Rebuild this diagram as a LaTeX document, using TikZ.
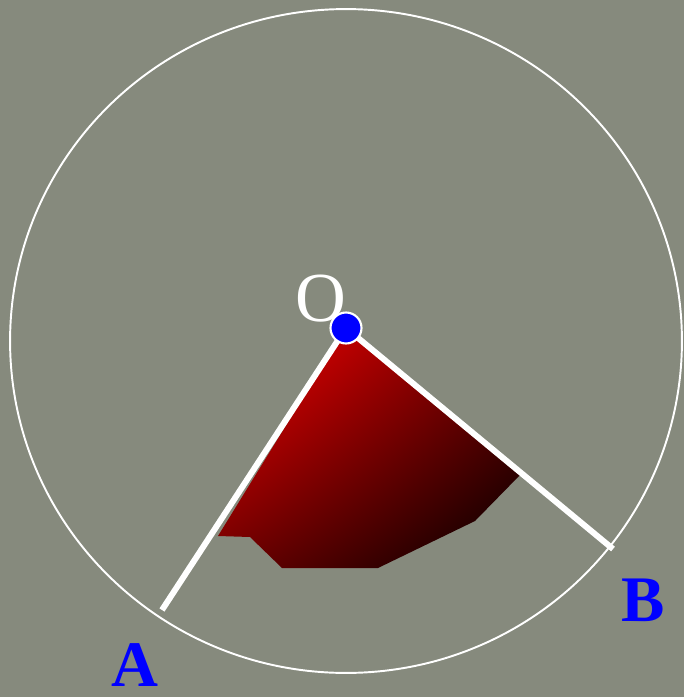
\documentclass[tikz,border=0pt]{standalone}
\usepackage{xcolor}
\usepackage{fontspec}
\setmainfont{Liberation Serif}
\usepackage{tikz}
\usetikzlibrary{shadings}
\definecolor{slate}{HTML}{868A7D}
\definecolor{sectorred}{HTML}{FF0000}
\definecolor{midred}{HTML}{6E0000}
\tikzset{
  arm/.style={white, line width=3.4pt},
  ptlabel/.style={text=blue, inner sep=0pt, font=\fontsize{37}{40}\selectfont\bfseries}
}

\begin{document}
\begin{tikzpicture}[x=0.02cm, y=-0.02cm]
    \fill[slate] (0,0) rectangle (684,697);
    \useasboundingbox (0,0) rectangle (684,697);
    \draw[white, line width=1.1pt] (346,341) ellipse [x radius=6.72cm, y radius=6.64cm];
    \coordinate (O) at (346,328);
    \coordinate (A) at (162,610);
    \coordinate (B) at (613,549);
    \shade[upper left=sectorred, upper right=midred, lower left=midred, lower right=black]
      (O) -- (218,536) -- (250,537) -- (282,568) -- (378,568) -- (475,521) -- (520,475) -- cycle;
    \draw[arm] (O) -- (A);
    \draw[arm] (O) -- (B);
    \node[circle, fill=blue, draw=white, line width=1.2pt, minimum size=0.62cm, inner sep=0pt] (dot) at (O) {};
    \node[text=white, font=\fontsize{40}{44}\selectfont] (lblO) at (321,299) {O};
    \node[ptlabel] (lblA) at (135,665) {A};
    \node[ptlabel] (lblB) at (643,600) {B};
  \end{tikzpicture}
\end{document}
